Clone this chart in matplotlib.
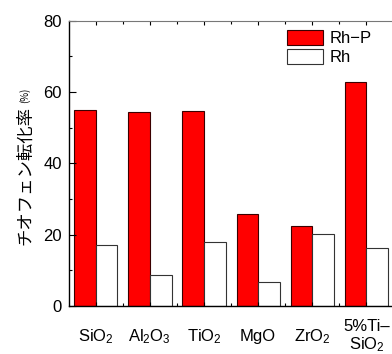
import numpy as np
import matplotlib
matplotlib.use('Agg')
import matplotlib.pyplot as plt

plt.rcParams['font.family'] = ['Liberation Sans', 'Noto Sans CJK JP', 'DejaVu Sans']
plt.rcParams['mathtext.fontset'] = 'custom'
plt.rcParams['mathtext.rm'] = 'Liberation Sans'
plt.rcParams['mathtext.it'] = 'Liberation Sans'

# data
supports = ['SiO$_2$', 'Al$_2$O$_3$', 'TiO$_2$', 'MgO', 'ZrO$_2$', '5%Ti\u2013\nSiO$_2$']
rh_p = [55.0, 54.5, 54.6, 25.8, 22.5, 62.7]
rh = [17.0, 8.8, 18.0, 6.6, 20.1, 16.3]

x = np.arange(len(supports))
w = 0.4

fig = plt.figure(figsize=(3.92, 3.54), dpi=100)
ax = fig.add_axes([0.175, 0.1356, 0.829, 0.806])

ax.bar(x - w/2, rh_p, width=w, color='#ff0000', edgecolor='#3a0000', lw=0.8, label='Rh\u2212P')
ax.bar(x + w/2, rh, width=w, color='white', edgecolor='#333333', lw=0.8, label='Rh')

ax.set_xlim(-0.5, 5.5)
ax.set_ylim(0, 80)
ax.set_yticks([0, 20, 40, 60, 80])
ax.set_yticks([10, 30, 50, 70], minor=True)
ax.set_xticks(x)
ax.set_xticks(x[:-1] + 0.5, minor=True)
ax.set_xticklabels(supports, fontsize=12, va='center', linespacing=1.1)
ax.tick_params(axis='y', labelsize=12, direction='in', length=5, width=0.8, pad=5)
ax.tick_params(axis='y', which='minor', direction='in', length=2.5, width=0.8)
ax.tick_params(axis='x', which='major', direction='in', length=3, width=0.8, pad=22, top=True)
ax.tick_params(axis='x', which='minor', direction='in', length=2, width=0.8, top=True)
ax.spines['top'].set_color('#777777')
for s in ['left', 'bottom']:
    ax.spines[s].set_linewidth(1.0)

fig.text(0.064, 0.503, 'チオフェン転化率', rotation=90, fontsize=12.5,
         ha='center', va='center', family=['Noto Sans CJK JP'])
fig.text(0.062, 0.732, '(%)', rotation=90, fontsize=7,
         ha='center', va='center', family=['Noto Sans CJK JP'])

ax.legend(loc='upper left', bbox_to_anchor=(0.7314, 0.9153), bbox_transform=fig.transFigure,
          frameon=False, fontsize=12, borderpad=0, borderaxespad=0,
          handlelength=2.2, handleheight=1.05, handletextpad=0.4, labelspacing=0.15)

fig.savefig('out.png', dpi=100)
